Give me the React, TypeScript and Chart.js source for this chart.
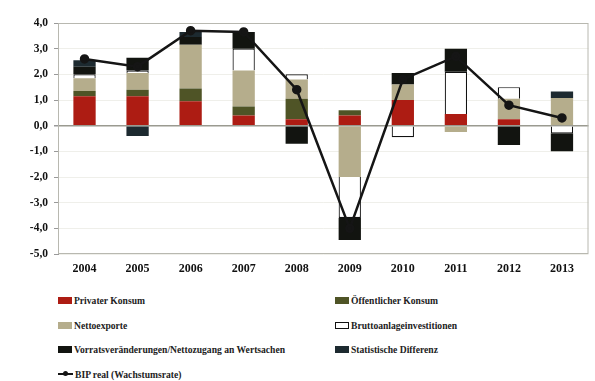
import React, { useEffect, useRef } from "react";
import { Chart, registerables } from "chart.js";

Chart.register(...registerables);

const years = ["2004", "2005", "2006", "2007", "2008", "2009", "2010", "2011", "2012", "2013"];
const privaterKonsum = [1.15, 1.15, 0.95, 0.4, 0.25, 0.4, 1.0, 0.45, 0.25, 0.03];
const oeffentlicherKonsum = [0.2, 0.25, 0.5, 0.35, 0.8, 0.2, 0, 0, 0, 0];
const nettoexporte = [0.5, 0.65, 1.7, 1.4, 0.75, -2.0, 0.6, -0.25, 0.8, 1.05];
const bruttoanlage = [0.15, 0.1, 0, 0.85, 0.2, -1.6, -0.45, 1.65, 0.45, -0.3];
const vorrat = [0.3, 0.5, 0.3, 0.65, -0.7, -0.85, 0.45, 0.9, -0.75, -0.7];
const statDiff = [0.25, -0.4, 0.2, 0, 0, 0, 0, 0, 0, 0.25];
const bipReal = [2.6, 2.3, 3.7, 3.65, 1.4, -4.0, 1.8, 2.7, 0.8, 0.3];

const labels = {
  pk: "Privater Konsum",
  ok: "Öffentlicher Konsum",
  nx: "Nettoexporte",
  bai: "Bruttoanlageinvestitionen",
  vv: "Vorratsveränderungen/Nettozugang an Wertsachen",
  sd: "Statistische Differenz",
  bip: "BIP real (Wachstumsrate)",
};

const colors = {
  pk: "#ad1c13",
  ok: "#4f5426",
  nx: "#b5ad8c",
  bai: "#ffffff",
  vv: "#121410",
  sd: "#1d2a30",
};

const FONT = "'Liberation Serif', 'DejaVu Serif', serif";

const framePlugin = {
  id: "frame",
  afterDraw(chart: any) {
    const { ctx, chartArea } = chart;
    ctx.save();
    ctx.strokeStyle = "#b8b8b0";
    ctx.lineWidth = 1;
    ctx.strokeRect(chartArea.left + 0.5, chartArea.top + 0.5, chartArea.right - chartArea.left - 1, chartArea.bottom - chartArea.top - 1);
    ctx.restore();
  },
};

export default function App() {
  const ref = useRef<HTMLCanvasElement | null>(null);

  useEffect(() => {
    if (!ref.current) return;
    const barCommon = { stack: "s", barPercentage: 0.42, categoryPercentage: 1, borderWidth: 0, order: 2 };
    const chart = new Chart(ref.current, {
      type: "bar",
      data: {
        labels: years,
        datasets: [
          { ...barCommon, label: labels.pk, data: privaterKonsum, backgroundColor: colors.pk },
          { ...barCommon, label: labels.ok, data: oeffentlicherKonsum, backgroundColor: colors.ok },
          { ...barCommon, label: labels.nx, data: nettoexporte, backgroundColor: colors.nx },
          { ...barCommon, label: labels.bai, data: bruttoanlage, backgroundColor: colors.bai, borderColor: "#111", borderWidth: 1.2 },
          { ...barCommon, label: labels.vv, data: vorrat, backgroundColor: colors.vv },
          { ...barCommon, label: labels.sd, data: statDiff, backgroundColor: colors.sd },
          {
            type: "line",
            label: labels.bip,
            data: bipReal,
            borderColor: "#151515",
            backgroundColor: "#151515",
            borderWidth: 2.5,
            pointRadius: 3.5,
            pointStyle: "circle",
            tension: 0,
            order: 1,
          } as any,
        ],
      },
      options: {
        animation: false,
        responsive: false,
        maintainAspectRatio: false,
        layout: { padding: { top: 23, right: 3, left: 0, bottom: 0 } },
        plugins: { legend: { display: false }, tooltip: { enabled: false } },
        scales: {
          x: {
            stacked: true,
            grid: { display: false, drawTicks: false },
            border: { display: false },
            ticks: { color: "#111", font: { family: FONT, size: 12, weight: "bold" }, padding: 8 },
            afterFit: (s: any) => { s.height = 31; },
          },
          y: {
            stacked: true,
            min: -5,
            max: 4,
            ticks: {
              stepSize: 1,
              color: "#111",
              font: { family: FONT, size: 11.5, weight: "bold" },
              padding: 6,
              callback: (v: any) => Number(v).toFixed(1).replace(".", ",").replace("-0,0", "0,0"),
            },
            grid: {
              color: (c: any) => (c.tick && c.tick.value === 0 ? "#9a9a90" : "#efefea"),
              lineWidth: (c: any) => (c.tick && c.tick.value === 0 ? 1.5 : 1),
              tickLength: 4,
              tickColor: "#999",
            },
            border: { display: true, color: "#999" },
            afterFit: (s: any) => { s.width = 58; },
          },
        },
      },
      plugins: [framePlugin],
    } as any);
    return () => chart.destroy();
  }, []);

  const legendItems: { key: keyof typeof labels; kind: "box" | "line" }[] = [
    { key: "pk", kind: "box" },
    { key: "ok", kind: "box" },
    { key: "nx", kind: "box" },
    { key: "bai", kind: "box" },
    { key: "vv", kind: "box" },
    { key: "sd", kind: "box" },
    { key: "bip", kind: "line" },
  ];

  return (
    <div style={{ position: "fixed", left: 0, top: 0, width: 595, height: 381, background: "#fff", overflow: "hidden" }}>
      <canvas ref={ref} width={595} height={285} style={{ display: "block", width: 595, height: 285 }} />
      <div
        style={{
          position: "absolute",
          left: 58,
          top: 294,
          display: "grid",
          gridTemplateColumns: "277px 240px",
          rowGap: 11.5,
          fontFamily: FONT,
          fontWeight: "bold",
          fontSize: 9.6,
          color: "#222",
          lineHeight: "13px",
        }}
      >
        {legendItems.map((it) => (
          <div key={it.key} style={{ display: "flex", alignItems: "center", whiteSpace: "nowrap" }}>
            {it.kind === "box" ? (
              <span
                style={{
                  display: "inline-block",
                  width: 14,
                  height: 7,
                  background: (colors as any)[it.key],
                  border: it.key === "bai" ? "1px solid #111" : "none",
                  boxSizing: "border-box",
                  marginRight: 2,
                }}
              />
            ) : (
              <span style={{ position: "relative", display: "inline-block", width: 15, height: 6, marginRight: 2 }}>
                <span style={{ position: "absolute", left: 0, right: 0, top: 2, height: 2, background: "#151515" }} />
                <span style={{ position: "absolute", left: 5, top: 0, width: 5, height: 5, borderRadius: 3, background: "#151515" }} />
              </span>
            )}
            <span>{labels[it.key]}</span>
          </div>
        ))}
      </div>
    </div>
  );
}
